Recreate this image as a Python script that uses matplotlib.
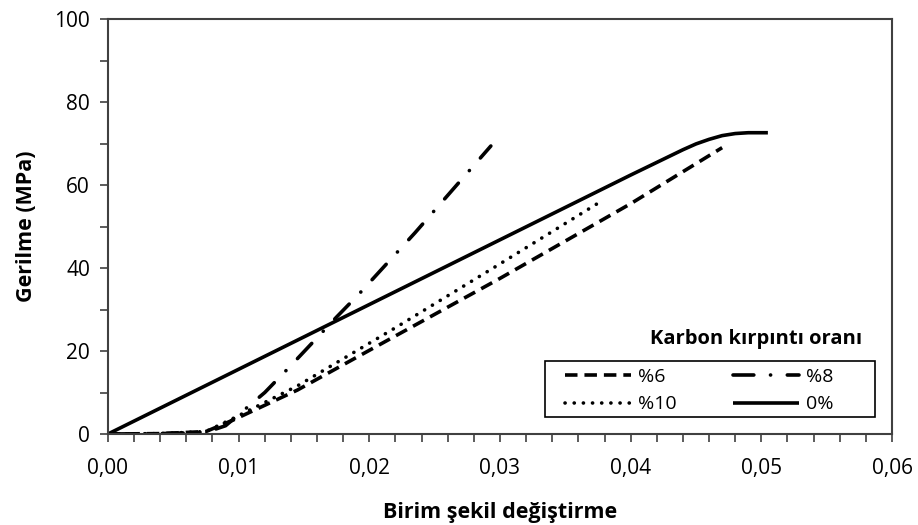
import matplotlib.pyplot as plt
from matplotlib.patches import Rectangle
from matplotlib.ticker import MultipleLocator, FuncFormatter

plt.rcParams['font.family'] = ['Open Sans', 'DejaVu Sans']
plt.rcParams['lines.scale_dashes'] = False

# Données
strain_0 = [0.0, 0.01, 0.02, 0.03, 0.04, 0.044, 0.045, 0.046, 0.047, 0.048, 0.049, 0.0505]
stress_0 = [0.0, 15.6, 31.2, 46.8, 62.4, 68.5, 69.9, 71.0, 71.9, 72.4, 72.6, 72.6]

strain_6 = [0.0, 0.004, 0.0075, 0.0096, 0.0145, 0.021, 0.03, 0.04, 0.047]
stress_6 = [0.0, 0.1, 0.6, 3.4, 10.6, 21.9, 37.5, 55.5, 69.0]

strain_8 = [0.0, 0.004, 0.0075, 0.009, 0.0105, 0.012, 0.014, 0.0175, 0.0192, 0.0235, 0.0293]
stress_8 = [0.0, 0.1, 0.4, 2.0, 6.0, 10.0, 16.5, 28.2, 33.7, 48.5, 69.4]

strain_10 = [0.0, 0.004, 0.0075, 0.0096, 0.0145, 0.0221, 0.03, 0.0377]
stress_10 = [0.0, 0.1, 0.6, 3.8, 11.6, 25.8, 41.0, 56.0]

fig = plt.figure(figsize=(9.18, 5.25), dpi=100)
ax = fig.add_axes([0.1176, 0.1733, 0.8541, 0.7905])

lw = 2.6
ax.plot(strain_6, stress_6, color='black', lw=lw, dashes=(9, 5), label='%6')
ax.plot(strain_10, stress_10, color='black', lw=lw, dashes=(0.1, 6.5),
        dash_capstyle='round', label='%10')
ax.plot(strain_8, stress_8, color='black', lw=lw, dashes=(15, 12, 0.1, 12),
        dash_capstyle='round', label='%8')
ax.plot(strain_0, stress_0, color='black', lw=lw, solid_capstyle='butt',
        solid_joinstyle='round', label='0%')

ax.set_xlim(0, 0.06)
ax.set_ylim(0, 100)
ax.xaxis.set_major_locator(MultipleLocator(0.01))
ax.xaxis.set_minor_locator(MultipleLocator(0.002))
ax.yaxis.set_major_locator(MultipleLocator(20))
ax.yaxis.set_minor_locator(MultipleLocator(10))
ax.xaxis.set_major_formatter(FuncFormatter(lambda v, p: f'{v:.2f}'.replace('.', ',')))
ax.tick_params(which='both', direction='out', length=6, width=1.2, colors='#404040',
               labelcolor='black', labelsize=15)
ax.tick_params(axis='x', which='both', pad=11)
ax.tick_params(axis='y', which='both', pad=7)
for s in ax.spines.values():
    s.set_color('#404040')
    s.set_linewidth(1.5)

ax.set_xlabel('Birim şekil değiştirme', fontsize=15.5, fontweight='bold', labelpad=17)
ax.set_ylabel('Gerilme (MPa)', fontsize=15.5, fontweight='bold', labelpad=12)

# légende sans cadre + cadre dessiné à part
leg = ax.legend(ncol=2, loc='upper left', bbox_to_anchor=(0.583, 0.16),
                fontsize=14, frameon=False, handlelength=3.4, handletextpad=0.35,
                columnspacing=2.9, borderpad=0, borderaxespad=0, labelspacing=0.5)
ax.add_patch(Rectangle((0.557, 0.041), 0.421, 0.135, transform=ax.transAxes,
                       fill=False, edgecolor='black', lw=1.2, zorder=5))

ax.text(0.827, 0.205, 'Karbon kırpıntı oranı', transform=ax.transAxes,
        fontsize=14.5, fontweight='bold', ha='center', va='bottom')

fig.savefig('out.png', dpi=100)
